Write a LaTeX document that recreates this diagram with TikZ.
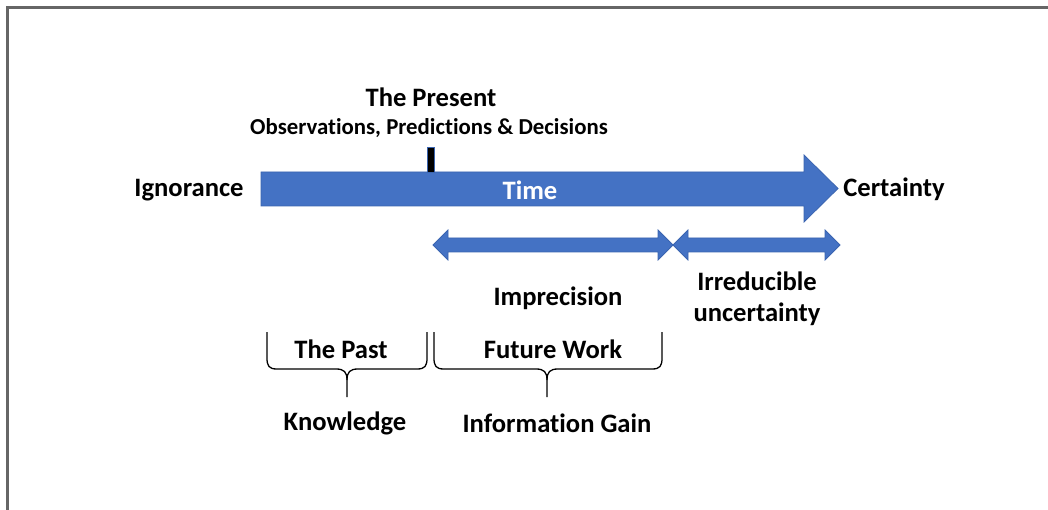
\documentclass[tikz,border=0pt]{standalone}
\usepackage{fontspec}
\setmainfont[Ligatures=NoCommon]{Carlito}
\definecolor{obblue}{HTML}{4472C4}
\definecolor{obedge}{HTML}{3A64B0}
\definecolor{framegray}{HTML}{666666}
\tikzset{
  lbl/.style={font=\bfseries\fontsize{26.6}{30}\selectfont, inner sep=0pt, text=black},
  sublbl/.style={font=\bfseries\fontsize{22.8}{26}\selectfont, inner sep=0pt, text=black},
  shape blue/.style={fill=obblue, draw=obedge, line width=0.8pt, line join=miter},
  bracepath/.style={draw=black, line width=1.3pt},
}
\begin{document}
\begin{tikzpicture}[x=1pt,y=-1pt]
\useasboundingbox (0,0) rectangle (1048,510);
% frame
\draw[framegray, line width=2.5pt] (7.5,510) -- (7.5,7.5) -- (1048,7.5);
% main arrow
\path[shape blue] (261,172) -- (804,172) -- (804,155) -- (838,188.5) -- (804,222) -- (804,206) -- (261,206) -- cycle;
% present tick
\path[fill=black, draw=obedge, line width=0.8pt] (427,147) rectangle (434,172);
% double arrows
\path[shape blue] (433,245) -- (448,230) -- (448,238) -- (658,238) -- (658,230) -- (673,245) -- (658,260) -- (658,252) -- (448,252) -- (448,260) -- cycle;
\path[shape blue] (673,245) -- (688,230) -- (688,238) -- (825,238) -- (825,230) -- (840,245) -- (825,260) -- (825,252) -- (688,252) -- (688,260) -- cycle;
% texts
\node[lbl] (ign) at (189,190) {Ignorance};
\node[lbl] (cert) at (894,189) {Certainty};
\node[lbl, text=white] (time) at (530,190) {Time};
\node[lbl] (pres) at (431,97) {The Present};
\node[sublbl] (obs) at (429,128) {Observations, Predictions \& Decisions};
\node[lbl] (impr) at (558,298) {Imprecision};
\node[lbl] (irr1) at (757,281) {Irreducible};
\node[lbl] (irr2) at (757,314) {uncertainty};
\node[lbl] (past) at (341,349) {The Past};
\node[lbl] (fut) at (553,349) {Future Work};
\node[lbl] (know) at (345,423) {Knowledge};
\node[lbl] (info) at (557,423) {Information Gain};
% braces
\draw[bracepath] (267,332) -- (267,358) .. controls (267,366) and (269,369) .. (277,369) -- (336,369) .. controls (344,369) and (347,372) .. (347,380) -- (347,397);
\draw[bracepath] (347,380) .. controls (347,372) and (350,369) .. (358,369) -- (417,369) .. controls (425,369) and (427,366) .. (427,358) -- (427,332);
\draw[bracepath] (434,332) -- (434,358) .. controls (434,366) and (436,369) .. (444,369) -- (536,369) .. controls (544,369) and (547,372) .. (547,380) -- (547,397);
\draw[bracepath] (547,380) .. controls (547,372) and (550,369) .. (558,369) -- (652,369) .. controls (660,369) and (662,366) .. (662,358) -- (662,332);
\end{tikzpicture}
\end{document}
